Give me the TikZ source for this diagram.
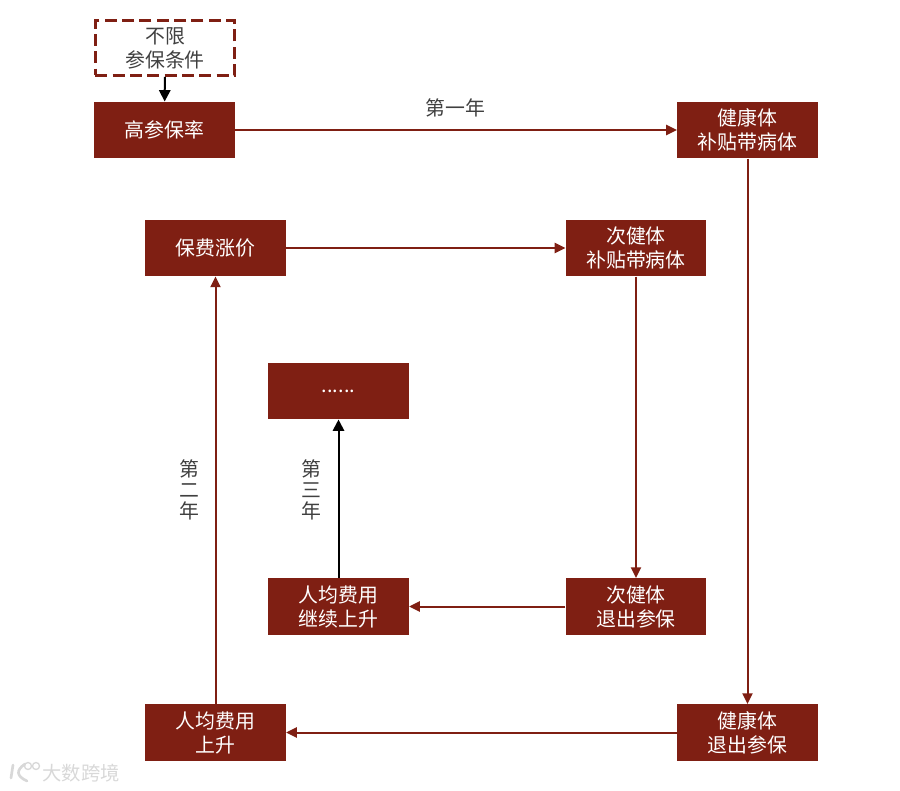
\documentclass[tikz,border=0pt]{standalone}
\usepackage{fontspec}
\setmainfont{Noto Sans CJK SC}[BoldFont={Noto Sans CJK SC}]
\usetikzlibrary{arrows.meta,positioning}
\definecolor{brick}{HTML}{7F1F13}
\definecolor{txt}{HTML}{404040}
\definecolor{wm}{HTML}{D8D8D8}
\tikzset{
  x=0.75pt,y=-0.75pt,
  base/.style={minimum width=105.5pt,minimum height=42.4pt,inner sep=0pt,align=center,font=\fontsize{14.9pt}{18pt}\selectfont},
  solidbox/.style={base,fill=brick,text=white},
  dashbox/.style={base,draw=brick,line width=2.2pt,dash pattern=on 9pt off 4pt,text=txt},
  flow/.style={draw=brick,line width=1.5pt,-{Triangle[length=8pt,width=7.5pt]}},
  blackflow/.style={draw=black,line width=1.5pt,-{Triangle[length=8.5pt,width=8.5pt]}},
  lab/.style={text=txt,font=\fontsize{14.9pt}{15.6pt}\selectfont,inner sep=0pt,align=center},
}
\begin{document}
\begin{tikzpicture}
\useasboundingbox (0,0) rectangle (900,790);
\node[dashbox,minimum width=104.5pt,minimum height=41pt] (limit) at (165,48) {不限\\参保条件};
\node[solidbox] (high) at (164.5,130) {高参保率};
\node[solidbox] (hsub) at (747.5,130) {健康体\\补贴带病体};
\node[solidbox] (price) at (215.5,248) {保费涨价};
\node[solidbox] (ssub) at (636,248) {次健体\\补贴带病体};
\node[solidbox] (more) at (338.5,391) {......};
\node[solidbox] (cost2) at (338.5,606.5) {人均费用\\继续上升};
\node[solidbox] (squit) at (636,606.5) {次健体\\退出参保};
\node[solidbox] (cost1) at (215.5,732.5) {人均费用\\上升};
\node[solidbox] (hquit) at (747.5,732.5) {健康体\\退出参保};
\draw[blackflow] (limit) -- (high);
\draw[flow] (high) -- (hsub);
\draw[flow] (hsub) -- (hquit);
\draw[flow] (hquit) -- (cost1);
\draw[flow] (cost1) -- (price);
\draw[flow] (price) -- (ssub);
\draw[flow] (ssub) -- (squit);
\draw[flow] (squit) -- (cost2);
\draw[blackflow] (cost2) -- (more);
\node[lab] (y1) at (455.5,108) {第一年};
\node[lab] (y2) at (189.5,490) {第\\二\\年};
\node[lab] (y3) at (311.5,490) {第\\三\\年};
\node[text=wm,inner sep=0pt,font=\fontsize{14.5pt}{16pt}\selectfont] (mark) at (81,773) {大数跨境};
\draw[wm,line width=2pt,line cap=round] (13,765) -- (11,778) (25,764) .. controls (16,770) and (16,776) .. (27,781);
\draw[wm,line width=1pt] (28,766) circle (3.5) (36,766) circle (3.5);
\end{tikzpicture}
\end{document}
